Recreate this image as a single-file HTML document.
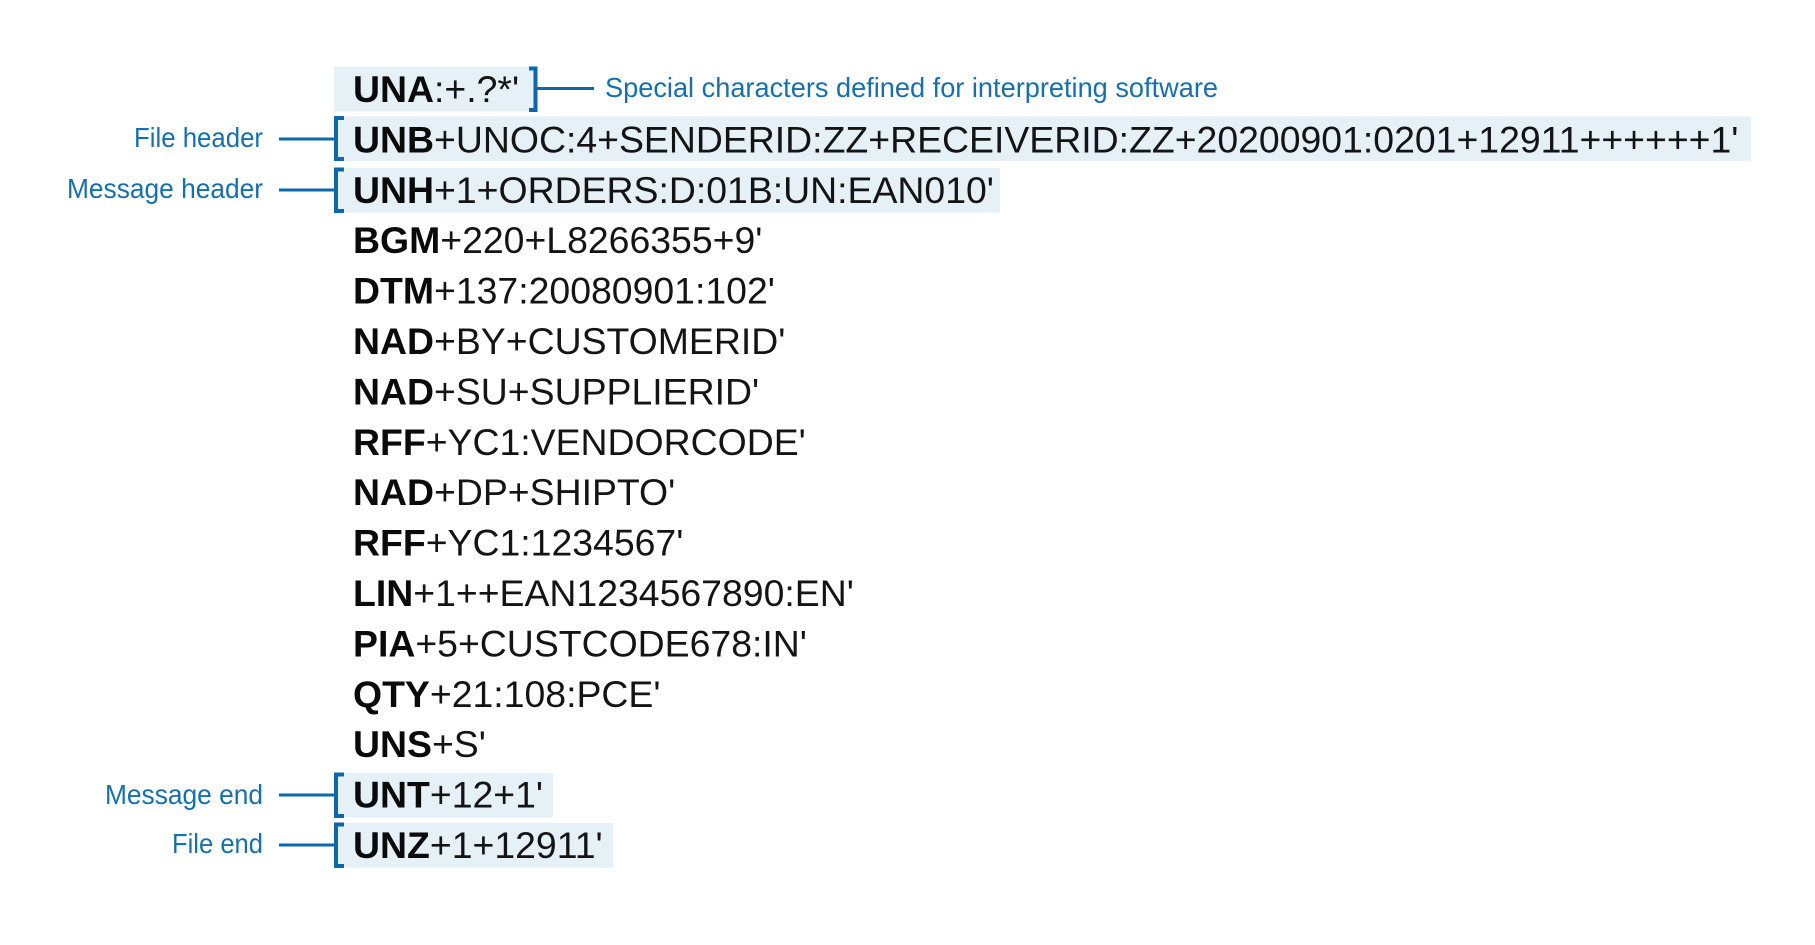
<!DOCTYPE html>
<html>
<head>
<meta charset="utf-8">
<style>
  html,body{margin:0;padding:0;background:#fff;}
  svg{display:block;}
  .code{font-family:"Liberation Sans",Arial,sans-serif;font-size:37.4px;fill:#141414;}
  .b{font-weight:bold;fill:#0a0a0a;}
  .lbl{font-family:"Liberation Sans",Arial,sans-serif;font-size:28px;fill:#1670ad;}
  .box{fill:#e5f0f7;}
  .br{fill:none;stroke:#0b69ab;stroke-width:4;stroke-linejoin:miter;}
  .ln{stroke:#0b69ab;stroke-width:3;}
</style>
</head>
<body>
<svg width="1815" height="945" viewBox="0 0 1815 945" xmlns="http://www.w3.org/2000/svg">
  <!-- highlight boxes -->
  <rect class="box" x="334" y="66.5" width="202" height="45"/>
  <rect class="box" x="334" y="116.5" width="1417" height="44.5"/>
  <rect class="box" x="334" y="168" width="666" height="44.5"/>
  <rect class="box" x="334" y="773" width="219" height="44.5"/>
  <rect class="box" x="334" y="823" width="279" height="44.5"/>

  <!-- brackets -->
  <path class="br" d="M529 68.5 H535.5 V110 H529"/>
  <path class="br" d="M344 118 H336 V159 H344"/>
  <path class="br" d="M344 169.5 H336 V211 H344"/>
  <path class="br" d="M344 774.5 H336 V816 H344"/>
  <path class="br" d="M344 824.5 H336 V866 H344"/>

  <!-- connector lines -->
  <line class="ln" x1="537.5" y1="88.5" x2="594" y2="88.5"/>
  <line class="ln" x1="279" y1="139" x2="334" y2="139"/>
  <line class="ln" x1="279" y1="190" x2="334" y2="190"/>
  <line class="ln" x1="279" y1="795" x2="334" y2="795"/>
  <line class="ln" x1="279" y1="845" x2="334" y2="845"/>

  <!-- labels -->
  <text class="lbl" x="605" y="97" textLength="613" lengthAdjust="spacingAndGlyphs">Special characters defined for interpreting software</text>
  <text class="lbl" x="134" y="147" textLength="129" lengthAdjust="spacingAndGlyphs">File header</text>
  <text class="lbl" x="67" y="198" textLength="196" lengthAdjust="spacingAndGlyphs">Message header</text>
  <text class="lbl" x="105" y="804" textLength="158" lengthAdjust="spacingAndGlyphs">Message end</text>
  <text class="lbl" x="172" y="853" textLength="91" lengthAdjust="spacingAndGlyphs">File end</text>

  <!-- code lines -->
  <text class="code" x="353" y="102"><tspan class="b">UNA</tspan>:+.?*'</text>
  <text class="code" x="353" y="152.4"><tspan class="b">UNB</tspan>+UNOC:4+SENDERID:ZZ+RECEIVERID:ZZ+20200901:0201+12911++++++1'</text>
  <text class="code" x="353" y="202.8"><tspan class="b">UNH</tspan>+1+ORDERS:D:01B:UN:EAN010'</text>
  <text class="code" x="353" y="253.2"><tspan class="b">BGM</tspan>+220+L8266355+9'</text>
  <text class="code" x="353" y="303.6"><tspan class="b">DTM</tspan>+137:20080901:102'</text>
  <text class="code" x="353" y="354"><tspan class="b">NAD</tspan>+BY+CUSTOMERID'</text>
  <text class="code" x="353" y="404.4"><tspan class="b">NAD</tspan>+SU+SUPPLIERID'</text>
  <text class="code" x="353" y="454.8"><tspan class="b">RFF</tspan>+YC1:VENDORCODE'</text>
  <text class="code" x="353" y="505.2"><tspan class="b">NAD</tspan>+DP+SHIPTO'</text>
  <text class="code" x="353" y="555.6"><tspan class="b">RFF</tspan>+YC1:1234567'</text>
  <text class="code" x="353" y="606"><tspan class="b">LIN</tspan>+1++EAN1234567890:EN'</text>
  <text class="code" x="353" y="656.4"><tspan class="b">PIA</tspan>+5+CUSTCODE678:IN'</text>
  <text class="code" x="353" y="706.8"><tspan class="b">QTY</tspan>+21:108:PCE'</text>
  <text class="code" x="353" y="757.2"><tspan class="b">UNS</tspan>+S'</text>
  <text class="code" x="353" y="807.6"><tspan class="b">UNT</tspan>+12+1'</text>
  <text class="code" x="353" y="858"><tspan class="b">UNZ</tspan>+1+12911'</text>
</svg>
</body>
</html>
